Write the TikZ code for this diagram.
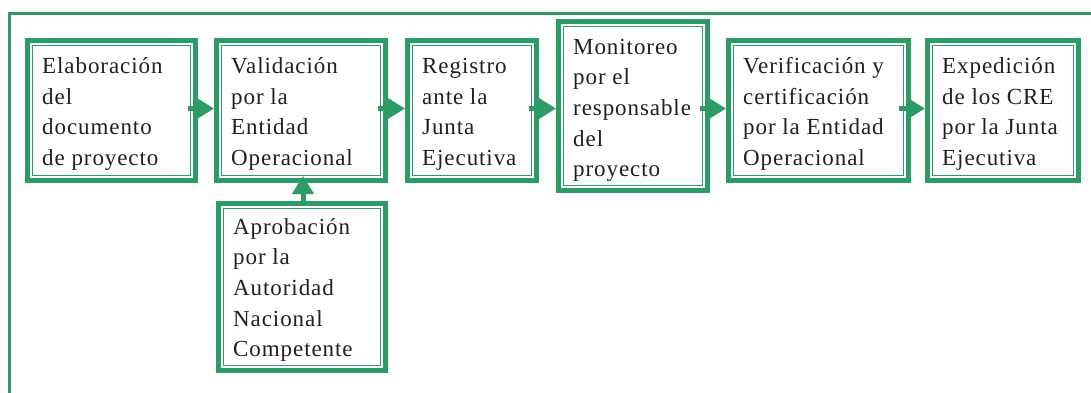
\documentclass[tikz,border=0pt]{standalone}
\usepackage{fontspec}
\setmainfont{Liberation Serif}[LetterSpace=4]
\usetikzlibrary{arrows.meta}
\definecolor{cdmgreen}{RGB}{44,155,102}
\definecolor{txt}{RGB}{35,31,32}
\begin{document}
\begin{tikzpicture}[x=1pt,y=-1pt,
  box/.style={draw=cdmgreen, line width=5pt, fill=white, inner sep=0pt},
  lbl/.style={anchor=north west, inner sep=0pt, align=left, text=txt,
    font={\fontsize{23}{30.6}\selectfont}},
  innerline/.style={draw=cdmgreen, line width=1.5pt},
  arr/.style={draw=cdmgreen, line width=5pt, -{Triangle[length=18pt,width=21pt]}},
  frame/.style={draw=cdmgreen, line width=3pt}]
\useasboundingbox (0,0) rectangle (1091,392);
\draw[frame] (9,400) -- (9,13) -- (1100,13);
% boxes (path centres; anchors lie on the outer edge of the thick border)
\node[box, minimum width=168pt, minimum height=140pt] (b1) at (111.5,110.5) {};
\node[box, minimum width=169pt, minimum height=140pt] (b2) at (301,110.5) {};
\node[box, minimum width=129pt, minimum height=140pt] (b3) at (472,110.5) {};
\node[box, minimum width=149pt, minimum height=169pt] (b4) at (633,106) {};
\node[box, minimum width=180pt, minimum height=140pt] (b5) at (818.5,110.5) {};
\node[box, minimum width=151pt, minimum height=140pt] (b6) at (1003,110.5) {};
\node[box, minimum width=167pt, minimum height=167pt] (b7) at (302,287) {};
\foreach \bx in {b1,b2,b3,b4,b5,b6,b7}
  \draw[innerline] ([xshift=7.5pt,yshift=7.5pt]\bx.south west) rectangle ([xshift=-7.5pt,yshift=-7.5pt]\bx.north east);
% texts
\node[lbl] (t1) at ([xshift=17pt,yshift=-17.5pt]b1.north west)
  {\rule{0pt}{18pt}Elaboración\\del\\documento\\de~proyecto};
\node[lbl] (t2) at ([xshift=17pt,yshift=-17.5pt]b2.north west)
  {\rule{0pt}{18pt}Validación\\por~la\\Entidad\\Operacional};
\node[lbl] (t3) at ([xshift=17pt,yshift=-17.5pt]b3.north west)
  {\rule{0pt}{18pt}Registro\\ante~la\\Junta\\Ejecutiva};
\node[lbl] (t4) at ([xshift=17pt,yshift=-17pt]b4.north west)
  {\rule{0pt}{18pt}Monitoreo\\por~el\\responsable\\del\\proyecto};
\node[lbl] (t5) at ([xshift=17pt,yshift=-17.5pt]b5.north west)
  {\rule{0pt}{18pt}Verificación~y\\certificación\\por~la~Entidad\\Operacional};
\node[lbl] (t6) at ([xshift=17pt,yshift=-17.5pt]b6.north west)
  {\rule{0pt}{18pt}Expedición\\de~los~CRE\\por~la~Junta\\Ejecutiva};
\node[lbl] (t7) at ([xshift=17pt,yshift=-15pt]b7.north west)
  {\rule{0pt}{18pt}Aprobación\\por~la\\Autoridad\\Nacional\\Competente};
% connectors
\draw[arr] ([xshift=-10pt,yshift=2pt]b1.east) -- ([yshift=2pt]b2.west);
\draw[arr] ([xshift=-10pt,yshift=2pt]b2.east) -- ([yshift=2pt]b3.west);
\draw[arr] ([xshift=-10pt,yshift=2pt]b3.east) -- ([yshift=2pt]b4.west |- b3.east);
\draw[arr] ([xshift=-10pt,yshift=2pt]b4.east |- b5.west) -- ([yshift=2pt]b5.west);
\draw[arr] ([xshift=-12pt,yshift=2pt]b5.east) -- ([yshift=2pt]b6.west);
\draw[arr] ([xshift=1pt,yshift=-4pt]b7.north) -- ([xshift=1pt,yshift=7pt]b7.north |- b2.south);
\end{tikzpicture}
\end{document}
